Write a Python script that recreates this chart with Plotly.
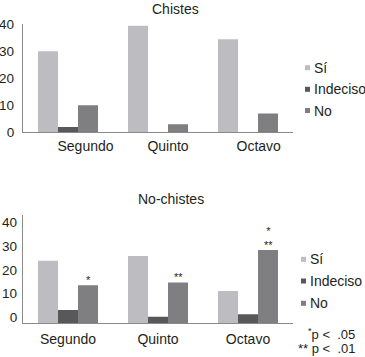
import numpy as np
import plotly.graph_objects as go

# ---- data ----
grades = ["Segundo", "Quinto", "Octavo"]
series = ["Sí", "Indeciso", "No"]
colors = ["#bdbdc1", "#58585b", "#7f7f82"]

chistes_si = [30, 39.5, 34.5]
chistes_indeciso = [2, 0, 0]
chistes_no = [10, 3, 7]

nochistes_si = [26.5, 28.5, 13.7]
nochistes_indeciso = [5.6, 2.8, 3.8]
nochistes_no = [16.1, 17.3, 31]
nochistes_no_marks = ["*", "**", "*<br>**"]

y_ticks = [0, 10, 20, 30, 40]

# ---- layout helpers ----
W, H = 365, 357
FONT = "Liberation Sans, Arial, sans-serif"
FS = 13
TXT = "#231f20"
AX = "#8a8a8a"

def px(x):
    return x / W

def py(y):
    return 1 - y / H

fig = go.Figure()
xs = np.arange(len(grades))

top = [chistes_si, chistes_indeciso, chistes_no]
bot = [nochistes_si, nochistes_indeciso, nochistes_no]
for name, col, vals in zip(series, colors, top):
    fig.add_trace(go.Bar(x=xs, y=vals, name=name, marker_color=col,
                         marker_line_width=0, showlegend=False,
                         xaxis="x", yaxis="y"))
for name, col, vals in zip(series, colors, bot):
    fig.add_trace(go.Bar(x=xs, y=vals, name=name, marker_color=col,
                         marker_line_width=0, showlegend=False,
                         xaxis="x2", yaxis="y2"))

top_label_nudge = [17.5, 10, 10.7]  # px, labels shifted right in the original

axis_common = dict(showgrid=False, zeroline=False, showline=True,
                   linecolor=AX, linewidth=1.3, ticks="", automargin=False,
                   tickfont=dict(family=FONT, size=FS + 1, color=TXT))
yfont = dict(family=FONT, size=FS + 0.5, color=TXT)

fig.update_layout(
    width=W, height=H,
    margin=dict(l=0, r=0, t=0, b=0),
    paper_bgcolor="white", plot_bgcolor="white",
    barmode="group", bargap=1/3, bargroupgap=0,
    font=dict(family=FONT, size=FS, color=TXT),
    xaxis=dict(axis_common, domain=[px(23), px(293)], range=[-0.5, 2.5],
               tickmode="array",
               tickvals=list(xs + np.array(top_label_nudge) / 90.0),
               ticktext=grades, anchor="y", ticklabelstandoff=1),
    yaxis=dict(axis_common, domain=[py(132.3), py(24.3)], range=[0, 40],
               tickmode="array", tickvals=y_ticks, anchor="x",
               tickfont=yfont, ticklabelstandoff=5),
    xaxis2=dict(axis_common, domain=[px(23), px(293)], range=[-0.5, 2.5],
                tickmode="array", tickvals=list(xs), ticktext=grades,
                anchor="y2", ticklabelstandoff=3),
    yaxis2=dict(axis_common, domain=[py(323.3), py(215)], range=[0, 45.8],
                tickmode="array", tickvals=y_ticks, anchor="x2",
                tickfont=yfont, ticklabelstandoff=2, ticklabelshift=-6),
)

ann = []
ann.append(dict(text="Chistes", x=px(175), y=py(8.5), xref="paper", yref="paper",
                showarrow=False, xanchor="center", yanchor="middle",
                font=dict(size=FS + 1, family=FONT, color=TXT)))
ann.append(dict(text="No-chistes", x=px(170.5), y=py(199), xref="paper", yref="paper",
                showarrow=False, xanchor="center", yanchor="middle",
                font=dict(size=FS + 1, family=FONT, color=TXT)))

# significance marks over "No" bars (third bar in each group)
bar_w = (1 - 1/3) / 3
for i, (v, m) in enumerate(zip(nochistes_no, nochistes_no_marks)):
    ann.append(dict(text=m, x=i + bar_w, y=v, xref="x2", yref="y2",
                    showarrow=False, xanchor="center", yanchor="bottom",
                    yshift=-3, font=dict(size=11, family=FONT, color=TXT)))

# legends
shapes = []
for legend_y, lx in (([67.7, 89.3, 110.5], 305), ([259.3, 281, 303.3], 301)):
    for name, col, yy in zip(series, colors, legend_y):
        shapes.append(dict(type="rect", xref="paper", yref="paper",
                           x0=px(lx), x1=px(lx + 5), y0=py(yy + 2.5), y1=py(yy - 2.5),
                           fillcolor=col, line_width=0))
        ann.append(dict(text=name, x=px(lx + 7), y=py(yy), xref="paper", yref="paper",
                        showarrow=False, xanchor="left", yanchor="middle",
                        font=dict(size=FS + 1, family=FONT, color=TXT)))

# footnote
ann.append(dict(text="<sup>*</sup>p <  .05", x=px(357), y=py(334), xref="paper", yref="paper",
                showarrow=False, xanchor="right", yanchor="middle",
                font=dict(size=FS, family=FONT, color=TXT)))
ann.append(dict(text="** p <  .01", x=px(357), y=py(348), xref="paper", yref="paper",
                showarrow=False, xanchor="right", yanchor="middle",
                font=dict(size=FS, family=FONT, color=TXT)))

fig.update_layout(annotations=ann, shapes=shapes)
fig.write_html("out.html", config={"displayModeBar": False},
               post_script="document.body.style.margin='0';")
